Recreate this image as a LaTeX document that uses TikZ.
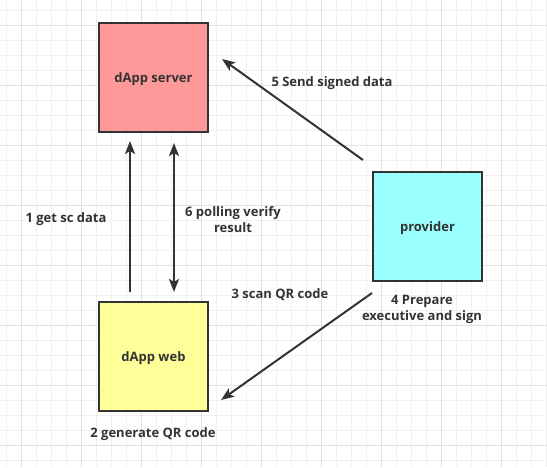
\documentclass[tikz,border=0pt]{standalone}
\usepackage{fontspec}
\setmainfont{Open Sans}
\usetikzlibrary{arrows.meta}
\definecolor{ink}{HTML}{333333}
\definecolor{servercol}{HTML}{FF9999}
\definecolor{webcol}{HTML}{FFFF99}
\definecolor{providercol}{HTML}{99FFFF}
\tikzset{
    box/.style={draw=ink, line width=2pt, minimum size=109pt, inner sep=0pt,
        text height=11pt, text depth=1pt,
        text=ink, font=\fontsize{13}{15.5}\selectfont\bfseries},
    lbl/.style={text=ink, align=center, inner sep=0pt,
        font=\fontsize{13}{15.5}\selectfont\bfseries},
    tip/.style={-{Stealth[length=13pt, width=10pt, inset=3pt]}},
    arr/.style={draw=ink, line width=2pt, tip},
    biarr/.style={draw=ink, line width=2pt,
        {Stealth[length=13pt, width=10pt, inset=3pt]}-{Stealth[length=13pt, width=10pt, inset=3pt]}},
}
\begin{document}
\begin{tikzpicture}[x=1pt, y=-1pt]
    \useasboundingbox (0,0) rectangle (547,467);
    \fill[white] (0,0) rectangle (547,467);
    % grid
    \foreach \x in {6.7,21.7,...,546.7}
        \draw[black!6, line width=1pt] (\x,0) -- (\x,467);
    \foreach \y in {10,25,...,460}
        \draw[black!6, line width=1pt] (0,\y) -- (547,\y);
    \foreach \x in {21.7,81.7,...,546.7}
        \draw[black!12, line width=1pt] (\x,0) -- (\x,467);
    \foreach \y in {25,85,...,460}
        \draw[black!12, line width=1pt] (0,\y) -- (547,\y);

    % boxes
    \node[box, fill=servercol] (server) at (153.5,77.5) {dApp server};
    \node[box, fill=webcol] (web) at (153.5,356.5) {dApp web};
    \node[box, fill=providercol] (provider) at (427.5,226.5) {provider};

    % connectors
    \draw[arr] ([xshift=-23.5pt, yshift=9pt]web.north)
        -- ([xshift=-23.5pt, yshift=-8pt]server.south);
    \draw[biarr] ([xshift=20.5pt, yshift=9pt]web.north)
        -- ([xshift=20.5pt, yshift=-10pt]server.south);
    \draw[arr] ([xshift=-9pt, yshift=11pt]provider.north west)
        -- ([xshift=13pt, yshift=-37pt]server.north east);
    \draw[arr] ([yshift=-11pt]provider.south west)
        -- ([xshift=12pt, yshift=12pt]web.south east);

    % labels
    \node[lbl] (getsc) at (66,219) {1 get sc data};
    \node[lbl] (polling) at (233,219.5) {6 polling verify\\result};
    \node[lbl] (send) at (332,83) {5 Send signed data};
    \node[lbl] (scan) at (280,295) {3 scan QR code};
    \node[lbl] (prepare) at (422,309.5) {4 Prepare\\executive and sign};
    \node[lbl] (generate) at (153,434) {2 generate QR code};
\end{tikzpicture}
\end{document}
